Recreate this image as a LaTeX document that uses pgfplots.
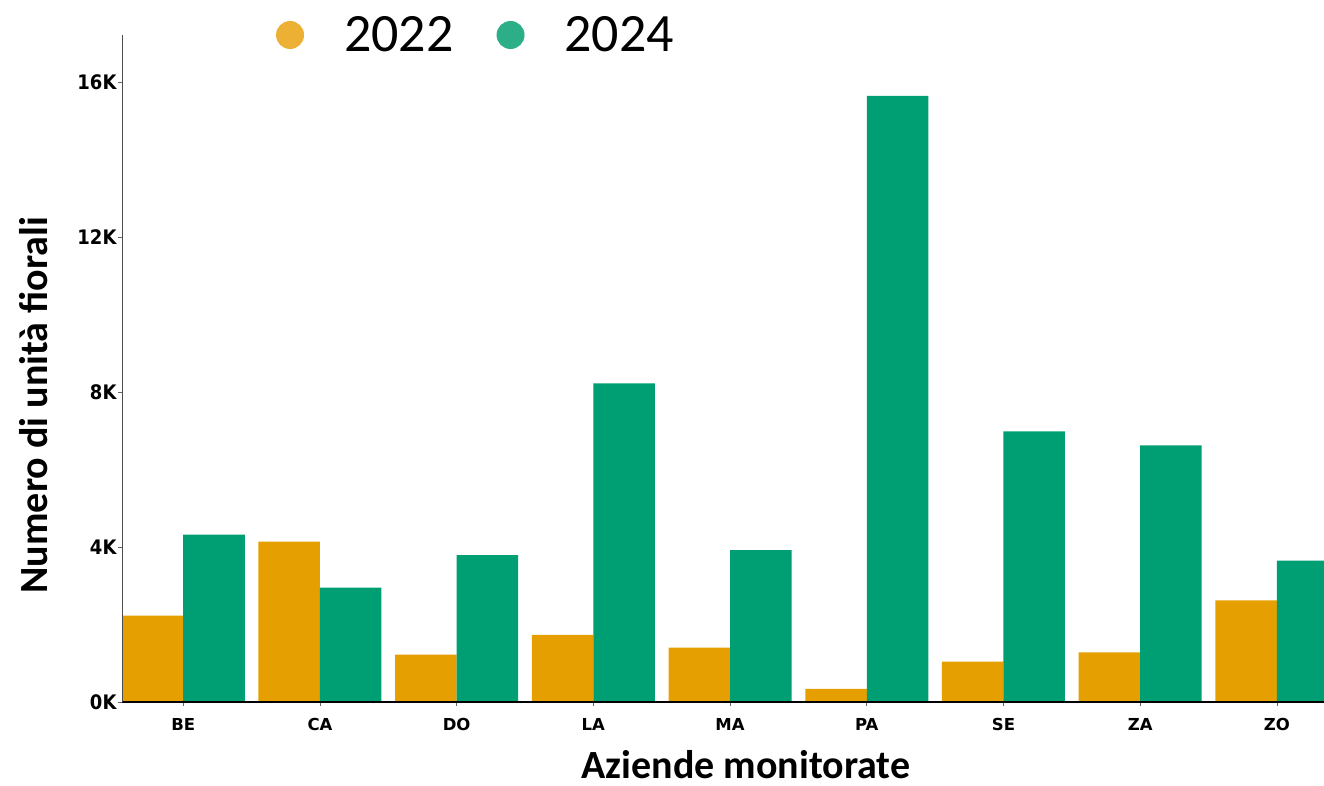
\documentclass[border=0pt]{standalone}
\usepackage{fontspec}
\usepackage{pgfplots}
\pgfplotsset{compat=1.18}
\setmainfont{Carlito}
\newfontfamily\tickfont{DejaVu Sans}
\newfontfamily\ytickfont[FakeStretch=0.9]{DejaVu Sans}
\definecolor{c22}{HTML}{E69F00}
\definecolor{c24}{HTML}{009E73}
\definecolor{l22}{HTML}{EBB034}
\definecolor{l24}{HTML}{2CAE88}

% valori (unita' fiorali)
\pgfplotstableread{
x  y22   y24
0  2230  4320
1  4140  2950
2  1220  3790
3  1730  8220
4  1400  3920
5  340   15640
6  1040  6980
7  1280  6620
8  2620  3650
}\datatab

\begin{document}
\begin{tikzpicture}[x=1pt,y=1pt]
\path[use as bounding box] (0,0) rectangle (1324,785);
\begin{axis}[
  at={(122pt,83pt)}, anchor=south west,
  scale only axis, width=1202pt, height=667pt,
  ybar, bar width=0.45,
  xmin=-0.448, xmax=8.345, ymin=0, ymax=17210,
  scaled y ticks=false,
  axis x line*=bottom, axis y line*=left,
  axis on top,
  x axis line style={black, line width=2pt},
  y axis line style={black!70, line width=0.9pt},
  xtick={0,...,8}, xticklabels={BE,CA,DO,LA,MA,PA,SE,ZA,ZO},
  ytick={0,4000,8000,12000,16000}, yticklabels={0K,4K,8K,12K,16K},
  tick align=outside, major tick length=4pt,
  tick style={black!60, line width=0.7pt},
  x tick label style={font=\tickfont\bfseries\fontsize{16.5}{18}\selectfont, yshift=-9pt},
  y tick label style={font=\ytickfont\bfseries\fontsize{20}{22}\selectfont, xshift=2pt},
  xlabel={Aziende monitorate},
  xlabel style={at={(axis description cs:0.519,-0.1154)}, anchor=base, inner sep=0pt,
    font=\bfseries\fontsize{40}{44}\selectfont},
  ylabel={Numero di unità fiorali},
  ylabel style={at={(axis description cs:-0.0616,0.445)}, anchor=base, rotate=0,
    font=\bfseries\fontsize{40}{44}\selectfont},
  legend columns=-1,
  legend style={at={(axis description cs:0.128,1)}, anchor=west,
    draw=none, fill=none, inner sep=0pt,
    font=\fontsize{54}{60}\selectfont,
    /tikz/every odd column/.append style={column sep=38pt},
    /tikz/every even column/.append style={column sep=41pt}},
]
\addplot[ybar, bar shift=-0.225, fill=c22, draw=none,
  legend image code/.code={\fill[l22] (14pt,0pt) circle (14pt);}]
  table[x=x, y=y22] {\datatab};
\addplot[ybar, bar shift=0.225, fill=c24, draw=none,
  legend image code/.code={\fill[l24] (14pt,0pt) circle (14pt);}]
  table[x=x, y=y24] {\datatab};
\legend{2022,2024}
\end{axis}
\end{tikzpicture}
\end{document}
